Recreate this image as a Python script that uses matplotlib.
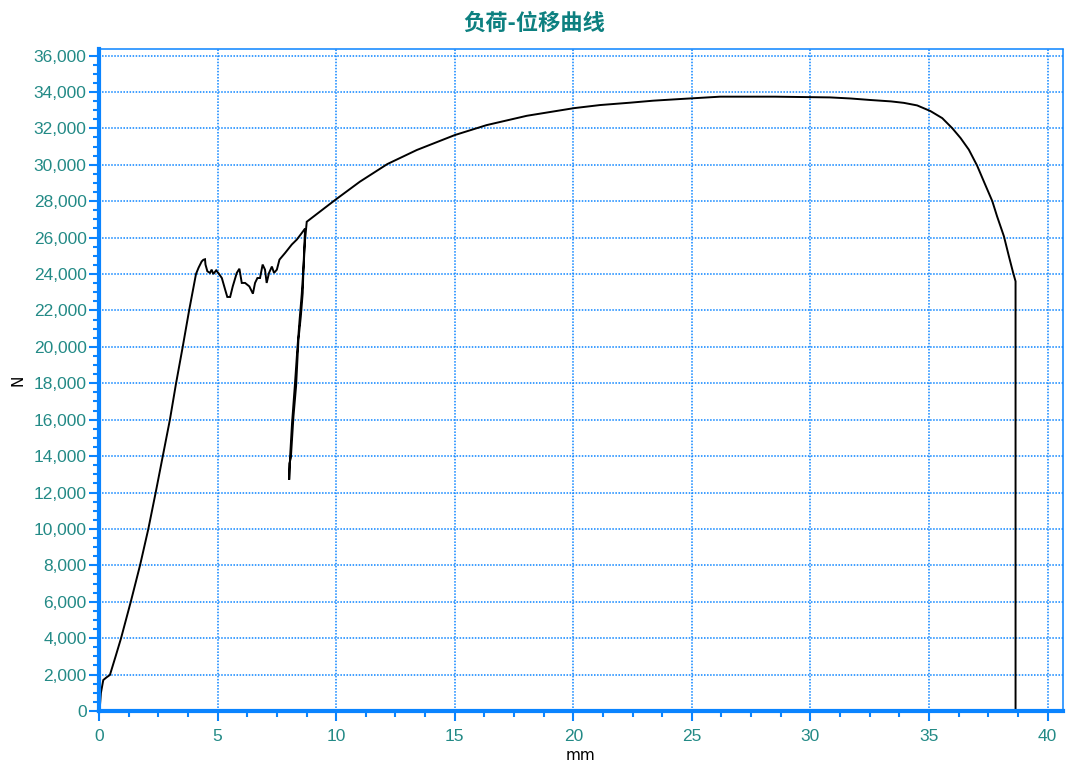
import matplotlib
matplotlib.use("Agg")
import matplotlib.pyplot as plt
from matplotlib.ticker import MultipleLocator, FuncFormatter

# Load-displacement record (displacement in mm, load in N)
disp_mm = [
    0.00, 0.04, 0.08, 0.18, 0.32, 0.46, 0.70, 0.93, 1.34, 1.73, 2.08, 2.39,
    2.69, 2.99, 3.25, 3.53, 3.80, 4.09, 4.20, 4.33, 4.40, 4.47, 4.49,
    4.57, 4.68, 4.75, 4.82, 4.94, 5.03, 5.18, 5.32, 5.41, 5.53, 5.64, 5.81,
    5.92, 6.02, 6.16, 6.34, 6.49, 6.58, 6.68, 6.79, 6.90, 7.00, 7.07, 7.17,
    7.29, 7.38, 7.50, 7.61, 7.85, 8.13, 8.34, 8.55, 8.69,
    # unload / reload loop
    8.62, 8.55, 8.46, 8.36, 8.26, 8.14, 8.06, 8.02, 8.03, 8.09, 8.20, 8.31,
    8.41, 8.51, 8.59, 8.62, 8.69, 8.76,
    # hardening and necking
    9.95, 11.00, 12.16, 13.40, 15.00, 16.35, 18.04, 20.03, 21.13, 22.40,
    23.37, 24.50, 26.19, 28.50, 30.83, 31.70, 32.50, 33.40, 33.94, 34.50,
    35.06, 35.56, 35.98, 36.33, 36.68, 37.03,
    37.34, 37.67, 37.87, 38.16, 38.37, 38.55, 38.65, 38.65,
]
load_n = [
    300, 300, 990, 1700, 1850, 1980, 3000, 4000, 6000, 8000, 10000, 12000,
    14000, 16000, 18000, 20000, 22000, 24000, 24350, 24690, 24780, 24810, 24520,
    24150, 24060, 24240, 24000, 24200, 24060, 23780, 23140, 22740, 22740, 23320, 24060,
    24290, 23510, 23510, 23320, 22920, 23510, 23780, 23780, 24520, 24240, 23510, 24060,
    24410, 24060, 24240, 24790, 25160, 25620, 25890, 26250, 26500,
    24300, 22900, 21500, 19800, 17900, 15800, 14000, 12700, 13600, 13900, 16180, 17840,
    20400, 21670, 22960, 24240, 25890, 26870,
    28060, 29070, 30040, 30810, 31630, 32180, 32690, 33110, 33280, 33410,
    33520, 33610, 33740, 33740, 33700, 33640, 33560, 33480, 33400, 33260,
    32950, 32560, 32010, 31470, 30830, 29950,
    29000, 28000, 27170, 26070, 24970, 24060, 23600, 0,
]

x_major = 5
x_minor = 1.25
y_major = 2000
y_minor = 500

blue = "#0a84ff"
teal = "#238a86"

fig = plt.figure(figsize=(10.68, 7.66), dpi=100)
ax = fig.add_axes([0.0927, 0.0718, 0.9026, 0.8642])

ax.plot(disp_mm, load_n, color="black", linewidth=1.4, solid_joinstyle="miter")

ax.set_xlim(0, 40.65)
ax.set_ylim(0, 36357)

ax.xaxis.set_major_locator(MultipleLocator(x_major))
ax.xaxis.set_minor_locator(MultipleLocator(x_minor))
ax.yaxis.set_major_locator(MultipleLocator(y_major))
ax.yaxis.set_minor_locator(MultipleLocator(y_minor))
ax.yaxis.set_major_formatter(FuncFormatter(lambda v, p: f"{int(v):,}"))
ax.xaxis.set_major_formatter(FuncFormatter(lambda v, p: f"{int(v)}"))

ax.grid(True, which="major", color=blue, linestyle=(0, (1, 1)), linewidth=1.1)

for side in ("left", "bottom"):
    ax.spines[side].set_color(blue)
    ax.spines[side].set_linewidth(3)
for side in ("top", "right"):
    ax.spines[side].set_color(blue)
    ax.spines[side].set_linewidth(1.1)
    ax.spines[side].set_linestyle((0, (1, 1)))

ax.tick_params(axis="both", which="major", direction="out", length=7, width=1.5,
               color=blue, labelcolor=teal, labelsize=12.5, pad=2)
ax.tick_params(axis="both", which="minor", direction="out", length=4, width=1.5,
               color=blue)
for lbl in ax.get_xticklabels() + ax.get_yticklabels():
    lbl.set_fontfamily("Liberation Sans")
ax.tick_params(axis="x", which="major", pad=6)

ax.set_xlabel("mm", fontsize=11, color="black", labelpad=3)
ax.set_ylabel("N", fontsize=11, color="black", labelpad=6)

fig.suptitle("负荷-位移曲线", x=0.5, y=0.985, fontsize=16, fontweight="bold",
             color="#0d8080", family=["Noto Sans CJK SC", "DejaVu Sans"])

fig.savefig("out.png", dpi=100)
